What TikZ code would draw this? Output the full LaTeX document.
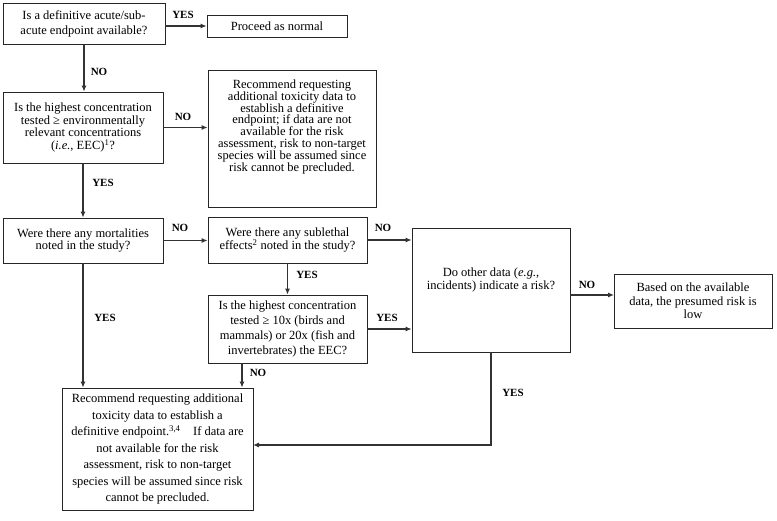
\documentclass[tikz,border=0pt]{standalone}
\usepackage{fontspec}
\setmainfont{Liberation Serif}
\usetikzlibrary{arrows.meta,calc}
\tikzset{
  box/.style={draw=black!85, line width=0.8pt, align=center, inner sep=0pt,
    font=\fontsize{12.5}{12.8}\selectfont},
  conn/.style={draw=black!80, line width=1.1pt, -{Latex[length=6pt,width=5pt]}},
  lbl/.style={font=\fontsize{11}{12}\selectfont\bfseries, inner sep=0pt}
}
\begin{document}
\begin{tikzpicture}[x=1pt,y=-1pt]
\useasboundingbox (0,0) rectangle (777,521);
% boxes
\node[box, minimum width=162pt, minimum height=41pt, font=\fontsize{12.5}{15}\selectfont] (q1) at (84,23.5)
  {Is a definitive acute/sub-\\acute endpoint available?};
\node[box, minimum width=140pt, minimum height=22pt] (proceed) at (277,26) {Proceed as normal};
\node[box, minimum width=160pt, minimum height=71pt, font=\fontsize{12.5}{12.7}\selectfont] (q2) at (83,127.5)
  {Is the highest concentration\\tested ≥ environmentally\\relevant concentrations\\(\textit{i.e.}, EEC)\textsuperscript{1}?};
\node[box, minimum width=168pt, minimum height=137pt, font=\fontsize{12.5}{11.9}\selectfont] (rec1) at (292,138.5)
  {Recommend requesting\\additional toxicity data to\\establish a definitive\\endpoint; if data are not\\available for the risk\\assessment, risk to non-target\\species will be assumed since\\risk cannot be precluded.\\[14pt]\mbox{}};
\node[box, minimum width=160pt, minimum height=45pt, font=\fontsize{12.5}{12.5}\selectfont] (q3) at (83,240.5)
  {Were there any mortalities\\noted in the study?};
\node[box, minimum width=159pt, minimum height=46pt, font=\fontsize{12.5}{13}\selectfont] (q4) at (287.5,240)
  {Were there any sublethal\\effects\textsuperscript{2} noted in the study?};
\node[box, minimum width=159pt, minimum height=68pt, font=\fontsize{12.5}{15}\selectfont] (q5) at (287.5,329)
  {Is the highest concentration\\tested ≥ 10x (birds and\\mammals) or 20x (fish and\\invertebrates) the EEC?};
\node[box, minimum width=158pt, minimum height=124pt, font=\fontsize{12.5}{13}\selectfont] (q6) at (491,290)
  {Do other data (\textit{e.g.},\\incidents) indicate a risk?\\[10pt]\mbox{}};
\node[box, minimum width=158pt, minimum height=54pt, font=\fontsize{12.5}{13.5}\selectfont] (low) at (693,301)
  {Based on the available\\data, the presumed risk is\\low};
\node[box, minimum width=191pt, minimum height=122pt, font=\fontsize{12.5}{16.5}\selectfont] (rec2) at (157.5,449)
  {Recommend requesting additional\\toxicity data to establish a\\definitive endpoint.\textsuperscript{3,4}\quad If data are\\not available for the risk\\assessment, risk to non-target\\species will be assumed since risk\\cannot be precluded.};
% helper coordinates
\coordinate (lowin) at (614,295);
\coordinate (q5out) at (242,363);
\coordinate (rec2in) at (253,445);
% connectors
\draw[conn] (q1.east |- proceed.west) -- (proceed.west);
\draw[conn] (q1.south) -- (q1.south |- q2.north);
\draw[conn] (q2.east) -- (q2.east -| rec1.west);
\draw[conn] (q2.south) -- (q2.south |- q3.north);
\draw[conn] (q3.east) -- (q3.east -| q4.west);
\draw[conn] (q4.east) -- (q4.east -| q6.west);
\draw[conn] (q4.south) -- (q4.south |- q5.north);
\draw[conn] (q5.east) -- (q5.east -| q6.west);
\draw[conn] (q6.east |- lowin) -- (lowin);
\draw[conn] (q3.south) -- (q3.south |- rec2.north);
\draw[conn] (q5out) -- (q5out |- rec2.north);
\draw[conn] (q6.south) |- (rec2in);
% labels
\node[lbl] (l1) at (183,15) {YES};
\node[lbl] (l2) at (99,72) {NO};
\node[lbl] (l3) at (183,117) {NO};
\node[lbl] (l4) at (103,183) {YES};
\node[lbl] (l5) at (180,228) {NO};
\node[lbl] (l6) at (383,228) {NO};
\node[lbl] (l7) at (307,275) {YES};
\node[lbl] (l8) at (387,318) {YES};
\node[lbl] (l9) at (258,373) {NO};
\node[lbl] (l10) at (105,318) {YES};
\node[lbl] (l11) at (587,285) {NO};
\node[lbl] (l12) at (513,393) {YES};
\end{tikzpicture}
\end{document}
